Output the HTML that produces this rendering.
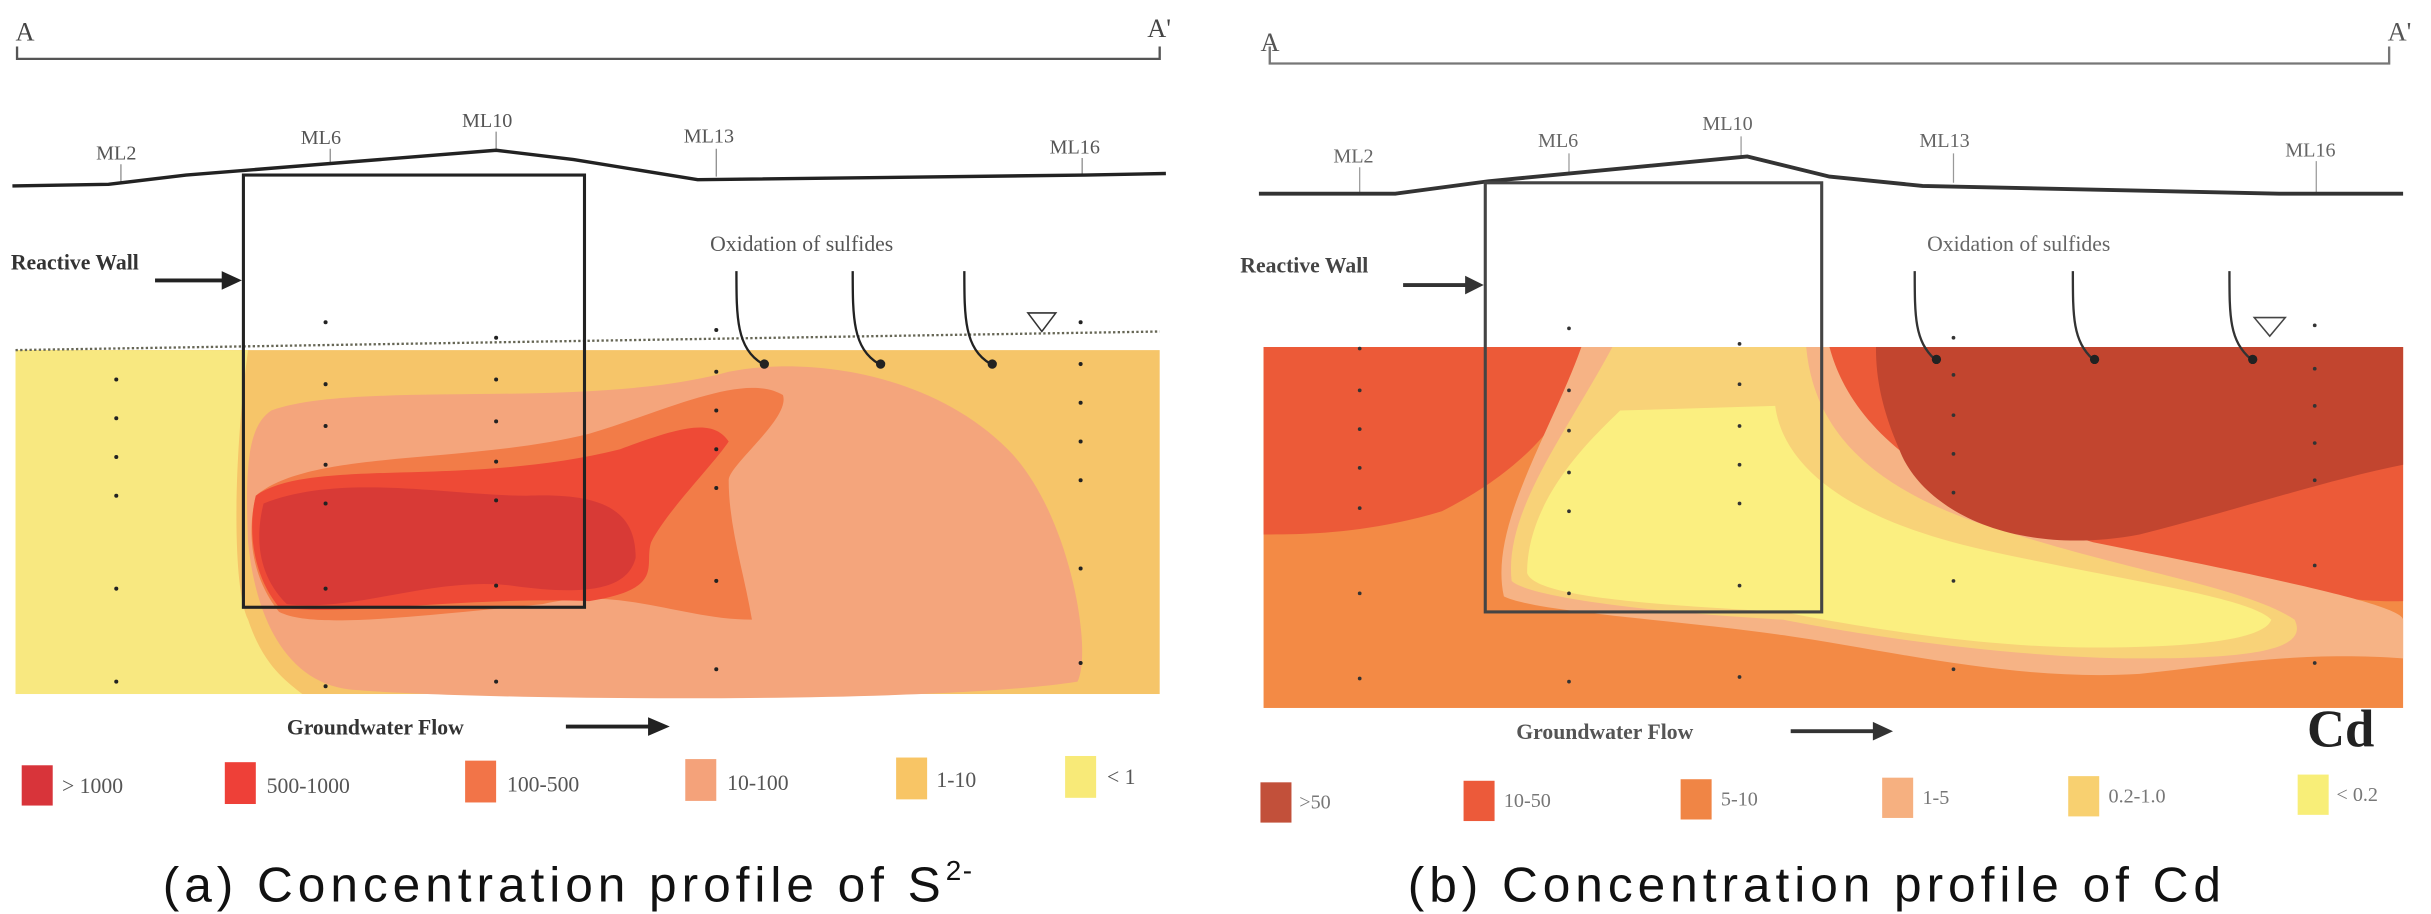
<!DOCTYPE html>
<html><head><meta charset="utf-8"><style>
html,body{margin:0;padding:0;background:#fff;}
svg{display:block;}
</style></head><body>
<svg width="2431" height="914" viewBox="0 0 1568 590" preserveAspectRatio="none" xmlns="http://www.w3.org/2000/svg" font-family="Liberation Serif, serif">
<!-- LEFT PANEL -->
<g>
<text x="10" y="26" font-size="17" fill="#444">A</text>
<text x="740" y="24" font-size="17" fill="#444">A'</text>
<path d="M11,30 V38 H748 V30" stroke="#555" stroke-width="1.5" fill="none"/>
<g font-size="13" fill="#555">
<text x="62" y="103">ML2</text><text x="194" y="93">ML6</text><text x="298" y="82">ML10</text><text x="441" y="92">ML13</text><text x="677" y="99">ML16</text>
</g>
<g stroke="#888" stroke-width="0.8"><path d="M78,106V119M213,96V106M320,85V97M462,96V114M698,102V113"/></g>
<path d="M8,120 L70,119 L120,113 L320,97 L370,103 L450,116 L700,113 L752,112" stroke="#222" stroke-width="2.2" fill="none"/>
<rect x="10" y="226" width="738" height="222" fill="#f6c569"/>
<path d="M10,226 L160,226 C150,300 150,380 160,400 C170,430 185,440 195,448 L10,448Z" fill="#f8e880"/>
<path d="M175,265 C230,245 380,265 470,240 C520,230 600,240 650,290 C690,330 705,420 695,440 C600,455 300,452 225,445 C185,440 165,400 160,350 C158,300 160,275 175,265Z" fill="#f4a57c"/>
<path d="M165,320 C200,290 300,300 380,280 C430,265 480,240 505,255 C510,270 470,300 470,310 C470,340 480,370 485,400 C440,400 400,378 350,390 C250,400 200,405 180,395 C160,370 160,340 165,320Z" fill="#f27c48"/>
<path d="M165,320 C200,295 300,315 400,290 C440,275 460,270 470,285 C460,300 430,330 420,350 C415,365 430,380 380,388 C300,385 220,398 180,392 C162,370 160,340 165,320Z" fill="#ee4a36"/>
<path d="M170,325 C220,305 290,320 340,320 C390,318 410,330 410,360 C405,380 380,385 330,378 C280,372 230,395 185,390 C165,370 165,345 170,325Z" fill="#d83a36"/>
<path d="M10,226 L748,214" stroke="#665" stroke-width="1.5" stroke-dasharray="1.5,1.5" fill="none"/>
<rect x="157" y="113" width="220" height="279" fill="none" stroke="#222" stroke-width="2"/>
<text x="7" y="174" font-size="14" font-weight="bold" fill="#333">Reactive Wall</text>
<path d="M100,181 H145" stroke="#222" stroke-width="2.5"/><path d="M143,175 L156,181 L143,187Z" fill="#222"/>
<text x="458" y="162" font-size="14" fill="#555">Oxidation of sulfides</text>
<g stroke="#222" stroke-width="1.5" fill="none"><path d="M475,175 C475,205 475,225 492,235"/><path d="M550,175 C550,205 550,225 567,235"/><path d="M622,175 C622,205 622,225 639,235"/></g>
<g fill="#222"><circle cx="493" cy="235" r="3"/><circle cx="568" cy="235" r="3"/><circle cx="640" cy="235" r="3"/></g>
<path d="M663,202 L681,202 L672,214Z" fill="#fff" stroke="#333" stroke-width="1"/>
<g fill="#222">
<circle cx="75" cy="245" r="1.3"/><circle cx="75" cy="270" r="1.3"/><circle cx="75" cy="295" r="1.3"/><circle cx="75" cy="320" r="1.3"/><circle cx="75" cy="380" r="1.3"/><circle cx="75" cy="440" r="1.3"/>
<circle cx="210" cy="208" r="1.3"/><circle cx="210" cy="248" r="1.3"/><circle cx="210" cy="275" r="1.3"/><circle cx="210" cy="300" r="1.3"/><circle cx="210" cy="325" r="1.3"/><circle cx="210" cy="380" r="1.3"/><circle cx="210" cy="443" r="1.3"/>
<circle cx="320" cy="218" r="1.3"/><circle cx="320" cy="245" r="1.3"/><circle cx="320" cy="272" r="1.3"/><circle cx="320" cy="298" r="1.3"/><circle cx="320" cy="323" r="1.3"/><circle cx="320" cy="378" r="1.3"/><circle cx="320" cy="440" r="1.3"/>
<circle cx="462" cy="213" r="1.3"/><circle cx="462" cy="240" r="1.3"/><circle cx="462" cy="265" r="1.3"/><circle cx="462" cy="290" r="1.3"/><circle cx="462" cy="315" r="1.3"/><circle cx="462" cy="375" r="1.3"/><circle cx="462" cy="432" r="1.3"/>
<circle cx="697" cy="208" r="1.3"/><circle cx="697" cy="235" r="1.3"/><circle cx="697" cy="260" r="1.3"/><circle cx="697" cy="285" r="1.3"/><circle cx="697" cy="310" r="1.3"/><circle cx="697" cy="367" r="1.3"/><circle cx="697" cy="428" r="1.3"/>
</g>
<text x="185" y="474" font-size="14" font-weight="bold" fill="#333">Groundwater Flow</text>
<path d="M365,469 H420" stroke="#222" stroke-width="2.5"/><path d="M418,463 L432,469 L418,475Z" fill="#222"/>
<g font-size="14" fill="#555">
<rect x="14" y="494" width="20" height="26" fill="#d8343a"/><text x="40" y="512">&gt; 1000</text>
<rect x="145" y="492" width="20" height="27" fill="#ee4038"/><text x="172" y="512">500-1000</text>
<rect x="300" y="491" width="20" height="27" fill="#f27448"/><text x="327" y="511">100-500</text>
<rect x="442" y="490" width="20" height="27" fill="#f4a27a"/><text x="469" y="510">10-100</text>
<rect x="578" y="489" width="20" height="27" fill="#f8c565"/><text x="604" y="508">1-10</text>
<rect x="687" y="488" width="20" height="27" fill="#f8ea78"/><text x="714" y="506">&lt; 1</text>
</g>
<text x="105" y="582" font-size="32" fill="#111" font-family="Liberation Sans, sans-serif" letter-spacing="3.2">(a) Concentration profile of S<tspan font-size="18" dy="-14" letter-spacing="1">2-</tspan></text>
</g>

<!-- RIGHT PANEL -->
<g>
<text x="813" y="33" font-size="17" fill="#555">A</text>
<text x="1540" y="26" font-size="17" fill="#555">A'</text>
<path d="M819,30 V41 H1541 V30" stroke="#777" stroke-width="1.5" fill="none"/>
<g font-size="13" fill="#666">
<text x="860" y="105">ML2</text><text x="992" y="95">ML6</text><text x="1098" y="84">ML10</text><text x="1238" y="95">ML13</text><text x="1474" y="101">ML16</text>
</g>
<g stroke="#999" stroke-width="0.8"><path d="M877,108V125M1012,99V113M1123,88V101M1260,99V118M1494,104V124"/></g>
<path d="M812,125 L900,125 L960,117 L1127,101 L1180,114 L1240,120 L1470,125 L1550,125" stroke="#333" stroke-width="2.5" fill="none"/>
<rect x="815" y="224" width="735" height="233" fill="#f38a45"/>
<path d="M815,224 L1025,224 C1018,260 990,300 930,330 C880,345 840,345 815,345Z" fill="#ec5a38"/>
<path d="M1172,224 L1550,224 L1550,388 C1500,390 1430,370 1370,355 C1300,340 1240,320 1200,290 C1180,270 1172,245 1172,224Z" fill="#ec5a38"/>
<path d="M1020,224 L1180,224 C1195,280 1250,320 1350,350 C1450,370 1550,390 1550,400 L1550,425 C1480,420 1430,430 1380,435 C1300,440 1220,420 1150,410 C1080,400 990,395 970,385 C960,340 1000,280 1020,224Z" fill="#f6b385"/>
<path d="M1040,224 L1165,224 C1170,280 1210,320 1300,345 C1380,370 1450,380 1480,400 C1490,420 1450,425 1380,425 C1300,425 1200,410 1150,400 C1060,395 985,385 975,375 C970,330 1010,280 1040,224Z" fill="#f8d278"/>
<path d="M1045,265 L1145,262 C1150,300 1190,335 1280,355 C1370,375 1450,385 1465,400 C1460,415 1400,418 1350,418 C1280,418 1200,405 1150,395 C1060,390 990,385 985,370 C985,320 1030,280 1045,265Z" fill="#fbef80"/>
<path d="M1210,224 L1550,224 L1550,300 C1500,310 1440,330 1380,345 C1300,360 1240,330 1225,290 C1212,260 1210,240 1210,224Z" fill="#c2452f"/>
<rect x="958" y="118" width="217" height="277" fill="none" stroke="#444" stroke-width="2"/>
<text x="800" y="176" font-size="14" font-weight="bold" fill="#444">Reactive Wall</text>
<path d="M905,184 H947" stroke="#333" stroke-width="2.5"/><path d="M945,178 L957,184 L945,190Z" fill="#333"/>
<text x="1243" y="162" font-size="14" fill="#666">Oxidation of sulfides</text>
<g stroke="#333" stroke-width="1.5" fill="none"><path d="M1235,175 C1235,205 1235,220 1248,232"/><path d="M1337,175 C1337,205 1337,220 1350,232"/><path d="M1438,175 C1438,205 1438,220 1452,232"/></g>
<g fill="#222"><circle cx="1249" cy="232" r="3"/><circle cx="1351" cy="232" r="3"/><circle cx="1453" cy="232" r="3"/></g>
<path d="M1454,205 L1474,205 L1464,217Z" fill="#fff" stroke="#444" stroke-width="1"/>
<g fill="#333">
<circle cx="877" cy="225" r="1.2"/><circle cx="877" cy="252" r="1.2"/><circle cx="877" cy="277" r="1.2"/><circle cx="877" cy="302" r="1.2"/><circle cx="877" cy="328" r="1.2"/><circle cx="877" cy="383" r="1.2"/><circle cx="877" cy="438" r="1.2"/>
<circle cx="1012" cy="212" r="1.2"/><circle cx="1012" cy="252" r="1.2"/><circle cx="1012" cy="278" r="1.2"/><circle cx="1012" cy="305" r="1.2"/><circle cx="1012" cy="330" r="1.2"/><circle cx="1012" cy="383" r="1.2"/><circle cx="1012" cy="440" r="1.2"/>
<circle cx="1122" cy="222" r="1.2"/><circle cx="1122" cy="248" r="1.2"/><circle cx="1122" cy="275" r="1.2"/><circle cx="1122" cy="300" r="1.2"/><circle cx="1122" cy="325" r="1.2"/><circle cx="1122" cy="378" r="1.2"/><circle cx="1122" cy="437" r="1.2"/>
<circle cx="1260" cy="218" r="1.2"/><circle cx="1260" cy="242" r="1.2"/><circle cx="1260" cy="268" r="1.2"/><circle cx="1260" cy="293" r="1.2"/><circle cx="1260" cy="318" r="1.2"/><circle cx="1260" cy="375" r="1.2"/><circle cx="1260" cy="432" r="1.2"/>
<circle cx="1493" cy="210" r="1.2"/><circle cx="1493" cy="238" r="1.2"/><circle cx="1493" cy="262" r="1.2"/><circle cx="1493" cy="286" r="1.2"/><circle cx="1493" cy="310" r="1.2"/><circle cx="1493" cy="365" r="1.2"/><circle cx="1493" cy="428" r="1.2"/>
</g>
<text x="978" y="477" font-size="14" font-weight="bold" fill="#555">Groundwater Flow</text>
<path d="M1155,472 H1210" stroke="#333" stroke-width="2.5"/><path d="M1208,466 L1221,472 L1208,478Z" fill="#333"/>
<text x="1488" y="482" font-size="34" font-weight="bold" fill="#222">Cd</text>
<g font-size="13" fill="#777">
<rect x="813" y="505" width="20" height="26" fill="#c2503a"/><text x="838" y="522">&gt;50</text>
<rect x="944" y="504" width="20" height="26" fill="#ec5a3a"/><text x="970" y="521">10-50</text>
<rect x="1084" y="503" width="20" height="26" fill="#f08545"/><text x="1110" y="520">5-10</text>
<rect x="1214" y="502" width="20" height="26" fill="#f6b080"/><text x="1240" y="519">1-5</text>
<rect x="1334" y="501" width="20" height="26" fill="#f8d070"/><text x="1360" y="518">0.2-1.0</text>
<rect x="1482" y="500" width="20" height="26" fill="#f8ee78"/><text x="1507" y="517">&lt; 0.2</text>
</g>
<text x="908" y="582" font-size="32" fill="#111" font-family="Liberation Sans, sans-serif" letter-spacing="3.2">(b) Concentration profile of Cd</text>
</g>
</svg>
</body></html>
